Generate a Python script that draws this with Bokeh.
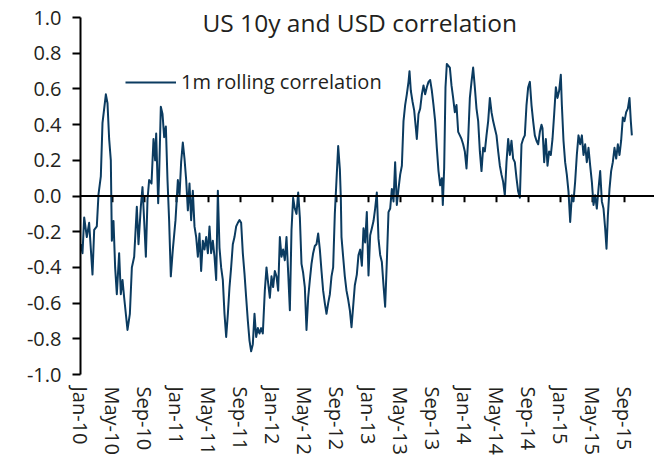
from bokeh.plotting import figure
from bokeh.models import Range1d, FixedTicker, NumeralTickFormatter, Span, Label, Legend, LegendItem
from bokeh.embed import file_html
from bokeh.resources import INLINE

title_text = "US 10y and USD correlation"
series_name = "1m rolling correlation"

# x positions are months since Jan-2010
tick_months = list(range(0, 69, 4))
tick_labels = ["Jan-10", "May-10", "Sep-10", "Jan-11", "May-11", "Sep-11",
               "Jan-12", "May-12", "Sep-12", "Jan-13", "May-13", "Sep-13",
               "Jan-14", "May-14", "Sep-14", "Jan-15", "May-15", "Sep-15"]
y_ticks = [-1.0, -0.8, -0.6, -0.4, -0.2, 0.0, 0.2, 0.4, 0.6, 0.8, 1.0]

months = [
    0.04, 0.25, 0.46, 0.79, 1.08, 1.5, 1.71, 2.04, 2.25, 2.54, 2.75, 3.17, 3.375, 3.58, 3.79, 3.92,
    4.125, 4.33, 4.54, 4.83, 5.04, 5.25, 5.46, 5.875, 6.17, 6.42, 6.71, 7.04, 7.25, 7.54, 7.75, 7.96,
    8.17, 8.375, 8.58, 8.875, 9.125, 9.33, 9.46, 9.71, 9.83, 10.04, 10.25, 10.46, 10.67, 10.875, 11.08, 11.29,
    11.54, 11.875, 12.17, 12.375, 12.58, 12.79, 13.0, 13.21, 13.42, 13.625, 13.83, 14.04, 14.25, 14.46,
    14.67, 14.875, 15.08, 15.29, 15.5, 15.71, 15.92, 16.125, 16.33, 16.54, 16.75, 16.96, 17.17, 17.375,
    17.58, 17.79, 18.0, 18.21, 18.42, 18.625, 18.83, 19.04, 19.25, 19.46, 19.67, 19.875, 20.08, 20.29,
    20.5, 20.71, 20.92, 21.125, 21.33, 21.54, 21.75, 21.96, 22.17, 22.375, 22.58, 22.79,
    23.04, 23.25, 23.46, 23.67, 23.875, 24.08, 24.29, 24.5, 24.71, 24.92, 25.125, 25.33, 25.54, 25.75,
    25.96, 26.17, 26.375, 26.58, 26.79, 27.0, 27.21, 27.42, 27.625, 27.83, 28.04, 28.25, 28.46, 28.67,
    28.875, 29.08, 29.29, 29.5, 29.71, 29.92, 30.125, 30.33, 30.54, 30.75, 30.96, 31.17, 31.375, 31.58,
    31.79, 32.0, 32.21, 32.42, 32.54, 32.625, 32.83, 33.04, 33.25, 33.46, 33.67, 33.875, 34.08, 34.29,
    34.54, 34.75, 34.96, 35.17, 35.375, 35.58, 35.79, 36.0, 36.21, 36.42, 36.625, 36.83, 37.04, 37.25,
    37.46, 37.67, 37.875, 38.08, 38.29, 38.5, 38.71, 38.92, 39.125, 39.33, 39.54, 39.75, 39.96, 40.17,
    40.375, 40.58, 40.79, 41.0, 41.125, 41.29, 41.5, 41.71, 41.92, 42.04, 42.25, 42.46, 42.67, 42.875,
    43.08, 43.29, 43.5, 43.71, 43.92, 44.125, 44.33, 44.54, 44.75, 44.96, 45.17, 45.29, 45.46, 45.625,
    45.79, 46.17, 46.375, 46.58, 46.79, 47.0, 47.21, 47.42, 47.625, 47.83, 48.04, 48.25, 48.46, 48.67,
    48.875, 49.08, 49.29, 49.5, 49.71, 49.92, 50.125, 50.33, 50.54, 50.75, 50.96, 51.17, 51.375, 51.58,
    51.79, 52.0, 52.21, 52.42, 52.625, 52.83, 53.04, 53.25, 53.46, 53.67, 53.875, 54.08, 54.29, 54.5,
    54.71, 54.92, 55.125, 55.33, 55.54, 55.75, 55.96, 56.17, 56.375, 56.58, 56.79, 57.0, 57.21, 57.42,
    57.625, 57.75, 57.96, 58.17, 58.375, 58.58, 58.79, 59.0, 59.21, 59.42, 59.625, 59.83, 60.04, 60.17,
    60.375, 60.58, 60.79, 61.0, 61.21, 61.42, 61.625, 61.83, 62.04, 62.25, 62.46, 62.67, 62.875, 63.08,
    63.29, 63.5, 63.71, 63.92, 64.125, 64.33, 64.54, 64.75, 64.96, 65.17, 65.375, 65.58, 65.75, 65.92,
    66.125, 66.33, 66.54, 66.75, 66.96, 67.17, 67.375, 67.58, 67.79, 68.0, 68.21, 68.42, 68.625, 68.79,
    68.92,
]
corr = [
    -0.27, -0.32, -0.12, -0.23, -0.15, -0.44, -0.19, -0.17, 0.01, 0.11, 0.41, 0.57, 0.52, 0.32, 0.20, -0.25,
    -0.14, -0.40, -0.55, -0.32, -0.55, -0.47, -0.57, -0.75, -0.66, -0.40, -0.34, -0.06, -0.27, -0.06, 0.05, -0.14,
    -0.34, -0.02, 0.09, 0.07, 0.32, 0.20, 0.35, -0.04, 0.12, 0.50, 0.46, 0.33, 0.39, 0.09, -0.14, -0.45,
    -0.30, -0.135, 0.09, 0.0, 0.19, 0.30, 0.21, 0.09, -0.08, 0.07, -0.135, 0.03, -0.17, -0.23,
    -0.34, -0.21, -0.42, -0.25, -0.30, -0.23, -0.32, -0.17, -0.32, -0.25, -0.34, -0.47, 0.03, -0.29,
    -0.40, -0.47, -0.66, -0.79, -0.66, -0.51, -0.40, -0.27, -0.23, -0.17, -0.15, -0.135, -0.15, -0.32,
    -0.435, -0.57, -0.70, -0.81, -0.87, -0.83, -0.66, -0.79, -0.74, -0.77, -0.74, -0.77,
    -0.53, -0.40, -0.49, -0.57, -0.45, -0.51, -0.42, -0.45, -0.53, -0.23, -0.34, -0.30, -0.36, -0.23,
    -0.43, -0.64, -0.19, -0.01, -0.07, -0.10, 0.02, -0.12, -0.38, -0.43, -0.51, -0.75, -0.57, -0.47,
    -0.38, -0.32, -0.28, -0.27, -0.21, -0.30, -0.42, -0.53, -0.60, -0.66, -0.60, -0.55, -0.45, -0.40,
    -0.10, 0.09, 0.28, 0.15, -0.01, -0.23, -0.34, -0.45, -0.53, -0.58, -0.64, -0.735, -0.62, -0.50,
    -0.44, -0.33, -0.30, -0.39, -0.18, -0.26, -0.09, -0.445, -0.22, -0.18, -0.14, -0.07, 0.02, -0.24,
    -0.33, -0.37, -0.50, -0.62, -0.37, -0.09, -0.07, 0.04, -0.03, 0.19, -0.05, 0.04, 0.12, 0.17,
    0.42, 0.51, 0.57, 0.64, 0.70, 0.59, 0.53, 0.48, 0.38, 0.32, 0.46, 0.49, 0.57, 0.62,
    0.57, 0.61, 0.64, 0.65, 0.59, 0.51, 0.42, 0.27, 0.14, 0.06, 0.10, -0.05, 0.16, 0.61,
    0.74, 0.72, 0.62, 0.55, 0.47, 0.51, 0.36, 0.34, 0.32, 0.29, 0.25, 0.155, 0.32, 0.55,
    0.64, 0.72, 0.61, 0.49, 0.42, 0.25, 0.14, 0.27, 0.25, 0.34, 0.42, 0.55, 0.47, 0.42,
    0.38, 0.34, 0.25, 0.17, 0.12, 0.08, 0.005, 0.19, 0.32, 0.23, 0.31, 0.21, 0.19, 0.10,
    0.025, -0.01, 0.29, 0.32, 0.34, 0.51, 0.61, 0.64, 0.51, 0.42, 0.34, 0.31, 0.29, 0.36,
    0.40, 0.38, 0.19, 0.32, 0.17, 0.25, 0.23, 0.32, 0.46, 0.61, 0.55, 0.59, 0.68, 0.51,
    0.31, 0.19, 0.12, 0.025, -0.145, 0.005, -0.03, 0.08, 0.23, 0.34, 0.29, 0.34, 0.23, 0.29,
    0.19, 0.27, 0.17, 0.08, -0.05, 0.005, -0.07, 0.04, 0.14, -0.03, -0.07, -0.18, -0.295, -0.11,
    0.04, 0.14, 0.19, 0.27, 0.21, 0.29, 0.23, 0.31, 0.44, 0.42, 0.47, 0.49, 0.55, 0.42,
    0.34,
]

FONT = "Open Sans"
TEXT = "#231f20"
LINE = "#0b3b60"

p = figure(width=654, height=457, output_backend="svg", toolbar_location=None,
           x_range=Range1d(0, 71.75), y_range=Range1d(-1.0, 1.079),
           min_border_left=80, min_border_top=3, min_border_right=0, min_border_bottom=0)
p.outline_line_color = None
p.grid.visible = False

# bottom axis: labels only
xa = p.xaxis[0]
xa.ticker = FixedTicker(ticks=tick_months)
xa.major_label_overrides = {m: lab for m, lab in zip(tick_months, tick_labels)}
xa.axis_line_color = None
xa.major_tick_line_color = None
xa.minor_tick_line_color = None
xa.major_tick_in = 0
xa.major_tick_out = 0
xa.major_label_orientation = "vertical"
xa.major_label_standoff = 12
xa.major_label_text_font = FONT
xa.major_label_text_font_size = "20px"
xa.major_label_text_color = TEXT

ya = p.yaxis[0]
ya.ticker = FixedTicker(ticks=y_ticks)
ya.bounds = (-1.0, 1.0)
ya.formatter = NumeralTickFormatter(format="0.0")
ya.axis_line_width = 2
ya.axis_line_color = "black"
ya.major_tick_line_width = 2
ya.major_tick_line_color = "black"
ya.major_tick_in = 0
ya.major_tick_out = 8
ya.minor_tick_line_color = None
ya.major_label_standoff = 11
ya.major_label_text_font = FONT
ya.major_label_text_font_size = "20px"
ya.major_label_text_color = TEXT

# zero line acting as x axis, with ticks below it
p.add_layout(Span(location=0, dimension="width", line_color="black", line_width=2))
p.segment(x0=tick_months[1:], y0=0, x1=tick_months[1:], y1=-0.035,
          line_color="black", line_width=2)

r = p.line(months, corr, line_color=LINE, line_width=2, line_join="round")

legend = Legend(items=[LegendItem(label=series_name, renderers=[r])],
                location=(45, 279), border_line_color=None, background_fill_alpha=0,
                padding=0, margin=0, glyph_width=51, label_standoff=5,
                label_text_font=FONT, label_text_font_size="20px", label_text_color=TEXT)
p.add_layout(legend)

p.add_layout(Label(x=34.9, y=0.974, text=title_text, text_align="center",
                   text_baseline="alphabetic", text_font=FONT, text_font_size="24.5px",
                   text_color=TEXT))

open("out.html", "w").write(file_html(p, INLINE))
